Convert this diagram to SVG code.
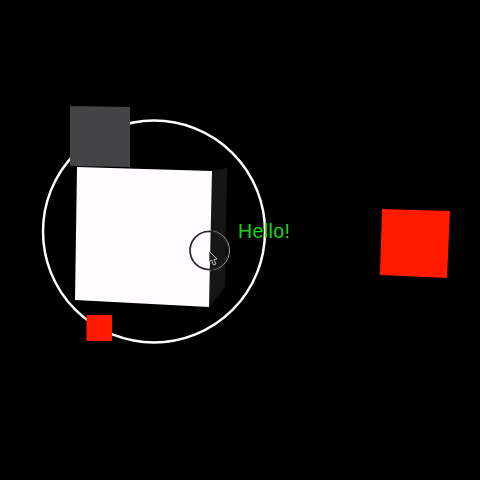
<svg xmlns="http://www.w3.org/2000/svg" width="480" height="480" viewBox="0 0 480 480">
<style>
.red{fill:#ff1a00}
.label{font-family:"Liberation Sans",Arial,sans-serif;font-size:19.500px;letter-spacing:0.400px;fill:#19d719}
</style>
<rect width="480" height="480" fill="#000"/>
<circle id="orbit" cx="154" cy="231.500" r="111" fill="none" stroke="#fff" stroke-width="2.500"/>
<g id="cube">
<polygon points="212,171 227,168 225,287 209,307" fill="#161616"/>
<polygon points="77,167 212,171 209,307 75,300" fill="#fffcff"/>
</g>
<g id="gray-square"><polygon points="70,106 130,107 130,167 70,166" fill="#444345"/></g>
<g id="small-red-square"><rect x="86.500" y="315" width="25.500" height="26" class="red"/></g>
<g id="large-red-square"><polygon points="382,209 450,211 447,278 380,275" class="red"/></g>
<g id="cursor-ring">
<circle cx="210" cy="250.500" r="19.500" fill="none" stroke="#aaa" stroke-width="1"/>
<circle cx="209" cy="250.500" r="19" fill="none" stroke="#222" stroke-width="1.600"/>
<polygon points="209,251 209,262 211.500,260 213.500,265 216,264 214,259.500 217,259" fill="#222" stroke="#ddd" stroke-width="0.800"/>
</g>
<text id="hello" class="label" x="238" y="238">Hello!</text>
</svg>
